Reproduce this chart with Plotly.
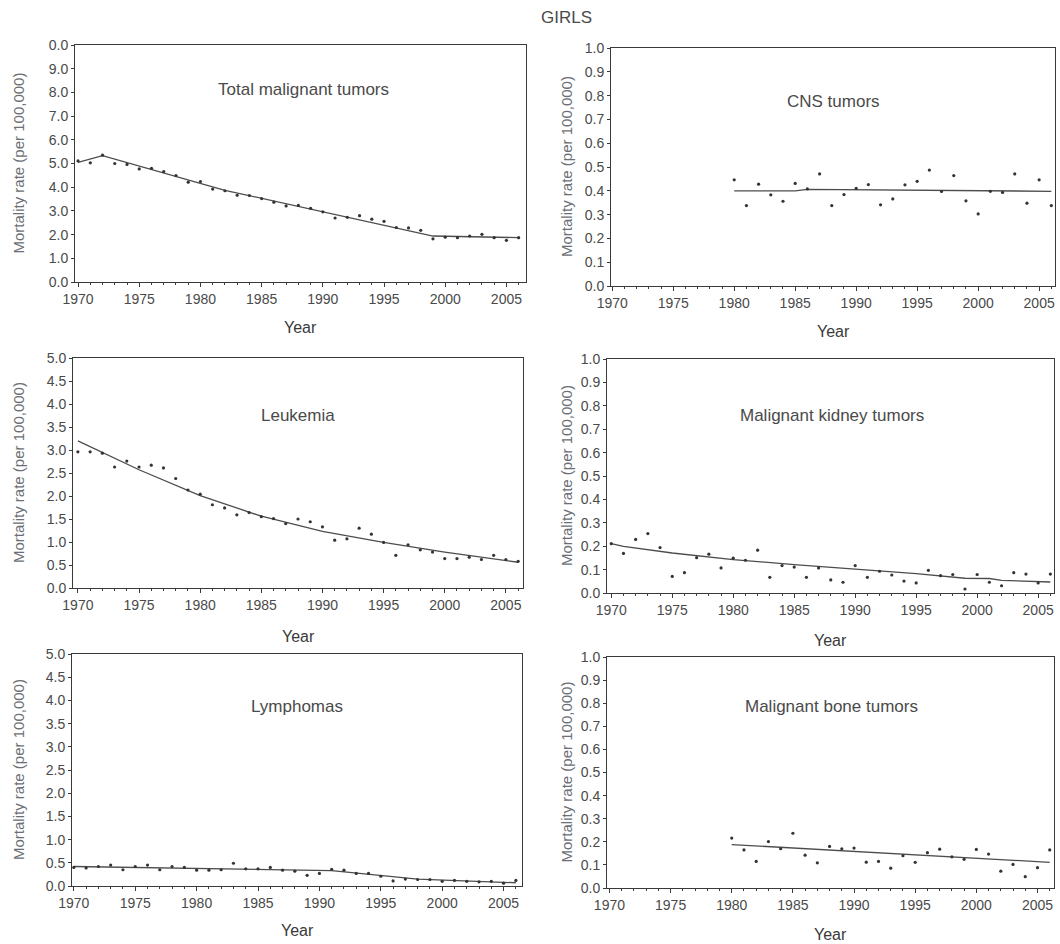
import plotly.graph_objects as go

W, H = 1060, 944

years_all = list(range(1970, 2007))
years_80 = list(range(1980, 2007))

# --- Total malignant tumors ---
total_obs = [5.11, 5.03, 5.35, 5.00, 4.96, 4.77, 4.80, 4.66, 4.49, 4.21, 4.24, 3.92, 3.85,
             3.66, 3.65, 3.52, 3.37, 3.21, 3.23, 3.11, 2.96, 2.70, 2.73, 2.80, 2.65, 2.56,
             2.30, 2.28, 2.18, 1.82, 1.89, 1.87, 1.94, 2.01, 1.87, 1.76, 1.87]
total_trend_years = [1970, 1972, 1982, 1999, 2006]
total_trend = [5.05, 5.33, 3.87, 1.94, 1.87]

# --- CNS tumors ---
cns_obs = [0.446, 0.338, 0.428, 0.383, 0.356, 0.431, 0.408, 0.471, 0.338, 0.384, 0.410,
           0.426, 0.341, 0.366, 0.425, 0.440, 0.487, 0.397, 0.464, 0.358, 0.303, 0.398,
           0.393, 0.471, 0.348, 0.446, 0.338]
cns_trend_years = [1980, 1985, 1986, 2006]
cns_trend = [0.400, 0.400, 0.406, 0.398]

# --- Leukemia ---
leuk_obs = [2.96, 2.96, 2.93, 2.63, 2.76, 2.63, 2.67, 2.61, 2.38, 2.13, 2.04, 1.81, 1.74,
            1.59, 1.64, 1.55, 1.51, 1.40, 1.50, 1.44, 1.33, 1.04, 1.07, 1.30, 1.17, 0.99,
            0.71, 0.94, 0.83, 0.78, 0.64, 0.64, 0.67, 0.62, 0.71, 0.62, 0.58]
leuk_trend_years = [1970, 1975, 1980, 1985, 1990, 1995, 2000, 2006]
leuk_trend = [3.20, 2.57, 2.01, 1.56, 1.23, 0.99, 0.78, 0.56]

# --- Malignant kidney tumors ---
kid_obs = [0.211, 0.169, 0.229, 0.254, 0.194, 0.071, 0.087, 0.151, 0.166, 0.107, 0.149,
           0.140, 0.183, 0.067, 0.117, 0.111, 0.067, 0.107, 0.056, 0.046, 0.117, 0.067,
           0.093, 0.077, 0.051, 0.043, 0.097, 0.074, 0.079, 0.017, 0.079, 0.046, 0.031,
           0.087, 0.081, 0.043, 0.081]
kid_trend_years = [1970, 1971, 1975, 1980, 1985, 1990, 1995, 1999, 2001, 2002, 2005, 2006]
kid_trend = [0.211, 0.199, 0.171, 0.143, 0.121, 0.103, 0.083, 0.063, 0.062, 0.054, 0.051, 0.047]

# --- Lymphomas ---
lym_obs = [0.40, 0.39, 0.42, 0.45, 0.35, 0.42, 0.45, 0.35, 0.42, 0.40, 0.34, 0.34, 0.35,
           0.49, 0.37, 0.37, 0.40, 0.34, 0.32, 0.23, 0.27, 0.36, 0.34, 0.27, 0.27, 0.21,
           0.11, 0.15, 0.14, 0.14, 0.10, 0.12, 0.10, 0.09, 0.10, 0.06, 0.12]
lym_trend_years = [1970, 1991, 1998, 2006]
lym_trend = [0.42, 0.33, 0.15, 0.07]

# --- Malignant bone tumors ---
bone_obs = [0.216, 0.165, 0.115, 0.201, 0.170, 0.237, 0.142, 0.109, 0.180, 0.170, 0.173,
            0.112, 0.115, 0.086, 0.140, 0.111, 0.153, 0.168, 0.135, 0.124, 0.167, 0.147,
            0.073, 0.102, 0.049, 0.088, 0.165]
bone_trend_years = [1980, 2006]
bone_trend = [0.188, 0.111]

panel_titles = ["Total malignant tumors", "CNS tumors", "Leukemia",
                "Malignant kidney tumors", "Lymphomas", "Malignant bone tumors"]
x_tick_vals = [1970, 1975, 1980, 1985, 1990, 1995, 2000, 2005]
y_ticks_10 = [0, 1, 2, 3, 4, 5, 6, 7, 8, 9, 10]
y_ticktext_10 = ["0.0", "1.0", "2.0", "3.0", "4.0", "5.0", "6.0", "7.0", "8.0", "9.0", "0.0"]
y_ticks_5 = [0, 0.5, 1, 1.5, 2, 2.5, 3, 3.5, 4, 4.5, 5]
y_ticks_1 = [0, 0.1, 0.2, 0.3, 0.4, 0.5, 0.6, 0.7, 0.8, 0.9, 1.0]

# layout geometry (pixels): x0, x1, y_top, y_bottom, x-range, y-max
panels = [
    dict(obs_x=years_all, obs=total_obs, tx=total_trend_years, ty=total_trend,
         box=(75, 526, 45, 282), xr=(1969.75, 2006.6), ymax=10,
         yt=y_ticks_10, ytt=y_ticktext_10, title_xy=(303, 89), year_y=327),
    dict(obs_x=years_80, obs=cns_obs, tx=cns_trend_years, ty=cns_trend,
         box=(611, 1055, 48, 286), xr=(1969.9, 2006.3), ymax=1,
         yt=y_ticks_1, ytt=["%.1f" % v for v in y_ticks_1], title_xy=(833, 101), year_y=331),
    dict(obs_x=years_all, obs=leuk_obs, tx=leuk_trend_years, ty=leuk_trend,
         box=(73, 523, 358, 588), xr=(1969.6, 2006.4), ymax=5,
         yt=y_ticks_5, ytt=["%.1f" % v for v in y_ticks_5], title_xy=(298, 416), year_y=636),
    dict(obs_x=years_all, obs=kid_obs, tx=kid_trend_years, ty=kid_trend,
         box=(607, 1054, 359, 593), xr=(1969.65, 2006.3), ymax=1,
         yt=y_ticks_1, ytt=["%.1f" % v for v in y_ticks_1], title_xy=(832, 415), year_y=640),
    dict(obs_x=years_all, obs=lym_obs, tx=lym_trend_years, ty=lym_trend,
         box=(72, 522, 654, 886), xr=(1969.85, 2006.5), ymax=5,
         yt=y_ticks_5, ytt=["%.1f" % v for v in y_ticks_5], title_xy=(297, 706), year_y=930),
    dict(obs_x=years_80, obs=bone_obs, tx=bone_trend_years, ty=bone_trend,
         box=(607, 1054, 657, 888), xr=(1969.8, 2006.35), ymax=1,
         yt=y_ticks_1, ytt=["%.1f" % v for v in y_ticks_1], title_xy=(831, 706), year_y=934),
]

AX = "#3a3a3a"
TXT = "#4a4a4a"
LIGHT = "#6b6f75"
FONT = "Liberation Sans, Arial, sans-serif"

fig = go.Figure()
layout = dict(
    width=W, height=H, margin=dict(l=0, r=0, t=0, b=0, pad=0, autoexpand=False),
    paper_bgcolor="white", plot_bgcolor="white", showlegend=False,
    font=dict(family=FONT, color=TXT, size=14),
)
annotations = []

def px_x(p):
    return p / W

def px_y(p):
    return 1 - p / H

for i, p in enumerate(panels, start=1):
    xa = "x" if i == 1 else "x%d" % i
    ya = "y" if i == 1 else "y%d" % i
    x0, x1, yt_, yb_ = p["box"]
    fig.add_trace(go.Scatter(x=p["tx"], y=p["ty"], mode="lines",
                             line=dict(color="#4d4d4d", width=1.3),
                             xaxis=xa, yaxis=ya, hoverinfo="skip", cliponaxis=False))
    fig.add_trace(go.Scatter(x=p["obs_x"], y=p["obs"], mode="markers",
                             marker=dict(color="#333333", size=3.2, symbol="circle"),
                             xaxis=xa, yaxis=ya, cliponaxis=False))
    xkey = "xaxis" if i == 1 else "xaxis%d" % i
    ykey = "yaxis" if i == 1 else "yaxis%d" % i
    layout[xkey] = dict(
        domain=[px_x(x0), px_x(x1)], anchor=ya, range=list(p["xr"]),
        automargin=False,
        tickmode="array", tickvals=x_tick_vals, ticks="outside", ticklen=4,
        tickcolor=AX, showline=True, linecolor=AX, linewidth=1, mirror=True,
        showgrid=False, zeroline=False,
        tickfont=dict(size=14, color=TXT, family=FONT),
        minor=dict(dtick=1, tick0=1970, ticks="outside", ticklen=2, tickcolor=AX),
    )
    layout[ykey] = dict(
        domain=[px_y(yb_), px_y(yt_)], anchor=xa, range=[0, p["ymax"]],
        automargin=False,
        tickmode="array", tickvals=p["yt"], ticktext=p["ytt"], ticks="outside",
        ticklen=3, tickcolor=AX, showline=True, linecolor=AX, linewidth=1,
        mirror=True, showgrid=False, zeroline=False,
        tickfont=dict(size=14, color=TXT, family=FONT),
    )
    tx, ty = p["title_xy"]
    annotations.append(dict(text=panel_titles[i - 1], x=px_x(tx), y=px_y(ty),
                            xref="paper", yref="paper", showarrow=False,
                            xanchor="center", yanchor="middle",
                            font=dict(size=17, color=TXT, family=FONT)))
    # "Year" axis title
    annotations.append(dict(text="Year", x=px_x((x0 + x1) / 2), y=px_y(p["year_y"]),
                            xref="paper", yref="paper", showarrow=False,
                            xanchor="center", yanchor="middle",
                            font=dict(size=16, color="#3a3a3a", family=FONT)))
    # y axis title
    yx = 18 if x0 < 300 else 566
    annotations.append(dict(text="Mortality rate (per 100,000)", x=px_x(yx),
                            y=px_y((yt_ + yb_) / 2), xref="paper", yref="paper",
                            showarrow=False, textangle=-90, xanchor="center",
                            yanchor="middle",
                            font=dict(size=15, color=LIGHT, family=FONT)))

annotations.append(dict(text="GIRLS", x=px_x(566), y=px_y(17), xref="paper", yref="paper",
                        showarrow=False, xanchor="center", yanchor="middle",
                        font=dict(size=17, color=TXT, family=FONT)))
layout["annotations"] = annotations
fig.update_layout(**layout)
fig.write_html("out.html", config={"displayModeBar": False},
               post_script="document.body.style.margin='0';"
                           "document.body.style.overflow='hidden';")
